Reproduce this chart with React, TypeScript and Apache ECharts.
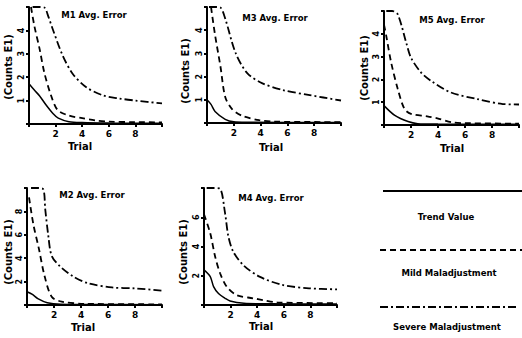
import React, { useEffect, useRef } from "react";
import * as echarts from "echarts";

// ---------- data (trial, avg. error counts; values at the top of a panel are off-scale) ----------
const panelTitles = ["M1 Avg. Error", "M3 Avg. Error", "M5 Avg. Error", "M2 Avg. Error", "M4 Avg. Error"];
const yMaxes = [5, 5, 5, 10, 8];
const yIntervals = [1, 1, 1, 2, 2];
const xTickLabels = ["2", "4", "6", "8"];
const legendNames = ["Trend Value", "Mild Maladjustment", "Severe Maladjustment"];

const m1Trend = [[0, 1.72], [0.4, 1.45], [0.8, 1.2], [1.3, 0.8], [1.8, 0.45], [2.2, 0.25], [3, 0.1], [4, 0.06], [6, 0.04], [10, 0.03]];
const m1Mild = [[0.15, 5], [0.4, 4.2], [0.8, 3.2], [1.15, 2.2], [1.65, 1.23], [2.15, 0.6], [3, 0.36], [4, 0.25], [5, 0.15], [6, 0.1], [8, 0.08], [10, 0.07]];
const m1Severe = [[0.27, 5], [0.7, 5], [1.15, 4.98], [1.45, 4.6], [1.78, 4.06], [2.53, 2.93], [3.28, 2.15], [4.28, 1.58], [5.53, 1.23], [6.78, 1.09], [8.03, 1.0], [10, 0.88]];

const m3Trend = [[0, 1.0], [0.3, 0.8], [0.6, 0.5], [1.36, 0.16], [2, 0.05], [3, 0.03], [10, 0.02]];
const m3Mild = [[0.3, 5], [0.6, 3.8], [1.0, 2.45], [1.36, 1.12], [1.87, 0.6], [2.63, 0.31], [3.9, 0.12], [5, 0.06], [10, 0.04]];
const m3Severe = [[0.15, 5], [0.6, 5], [0.99, 4.98], [1.36, 4.5], [2.12, 3.04], [3.0, 2.15], [4.14, 1.71], [5.65, 1.42], [7.67, 1.2], [10, 0.97]];

const m5Trend = [[0, 0.85], [0.8, 0.42], [1.78, 0.15], [2.5, 0.06], [4, 0.04], [10, 0.03]];
const m5Mild = [[0, 4.4], [0.17, 3.9], [0.53, 2.74], [1.02, 1.58], [1.51, 0.71], [2.0, 0.49], [3.2, 0.38], [3.95, 0.29], [5, 0.12], [6, 0.08], [10, 0.06]];
const m5Severe = [[0.17, 5], [0.6, 5], [1.02, 4.85], [1.65, 3.6], [2.0, 2.95], [2.75, 2.3], [3.48, 1.94], [4.94, 1.43], [6.9, 1.14], [8.8, 0.92], [10, 0.9]];

const m2Trend = [[0, 1.13], [0.4, 0.9], [0.8, 0.55], [1.5, 0.2], [2.5, 0.06], [4, 0.04], [10, 0.03]];
const m2Mild = [[0.15, 9.2], [0.47, 6.9], [0.89, 4.76], [1.28, 2.58], [1.83, 0.7], [2.57, 0.29], [4.3, 0.1], [10, 0.06]];
const m2Severe = [[0.3, 10], [0.75, 10], [1.2, 9.9], [1.35, 8.2], [1.58, 5.9], [1.83, 4.2], [2.45, 3.3], [3.43, 2.43], [4.54, 1.85], [6.3, 1.5], [8, 1.42], [10, 1.22]];

const m4Trend = [[0, 2.4], [0.47, 1.94], [0.72, 1.26], [1.09, 0.78], [1.58, 0.46], [1.96, 0.27], [3, 0.12], [5, 0.08], [10, 0.06]];
const m4Mild = [[0, 6.2], [0.47, 4.9], [0.84, 3.3], [1.21, 2.17], [1.7, 1.26], [2.44, 0.68], [3.68, 0.46], [4.42, 0.34], [5.5, 0.18], [10, 0.12]];
const m4Severe = [[0.2, 8], [0.7, 8], [1.2, 7.95], [1.58, 6.3], [1.83, 4.7], [2.2, 3.65], [2.94, 2.74], [4.17, 1.94], [5.9, 1.37], [7.9, 1.14], [10, 1.07]];

const panelSeries = [
  [m1Trend, m1Mild, m1Severe],
  [m3Trend, m3Mild, m3Severe],
  [m5Trend, m5Mild, m5Severe],
  [m2Trend, m2Mild, m2Severe],
  [m4Trend, m4Mild, m4Severe],
];

// ---------- layout ----------
const grids = [
  { left: 29, top: 7, width: 133, height: 117 },
  { left: 207, top: 7, width: 134, height: 116 },
  { left: 384, top: 11, width: 138, height: 114 },
  { left: 27, top: 188, width: 135, height: 117 },
  { left: 204, top: 188, width: 133, height: 117 },
];
const titlePos = [[94, 15], [275, 18], [452, 20], [92, 195], [271, 198]];
const trialPos = [[80, 146], [271, 147], [452, 148], [83, 327], [261, 326]];
const countsPos = [[8, 67], [185, 71], [364, 68], [8, 252], [183, 252]];

const FONT = "'DejaVu Sans', sans-serif";
const dashStyles: any[] = ["solid", [6, 4], [8, 3, 2, 3]];

export default function App() {
  const ref = useRef<HTMLDivElement>(null);
  useEffect(() => {
    if (!ref.current) return;
    const chart = echarts.init(ref.current, null, { renderer: "svg" });
    const xAxes = grids.map((_, i) => ({
      type: "value",
      gridIndex: i,
      min: 0,
      max: 10,
      interval: 2,
      splitLine: { show: false },
      axisLine: { lineStyle: { color: "#000", width: 2 } },
      axisTick: { show: true, length: 3, lineStyle: { color: "#000", width: 2 } },
      axisLabel: {
        color: "#000",
        fontFamily: FONT,
        fontWeight: "bold",
        fontSize: 9,
        margin: 5,
        formatter: (v: number) => (xTickLabels.includes(String(v)) ? String(v) : ""),
      },
    }));
    const yAxes = grids.map((_, i) => ({
      type: "value",
      gridIndex: i,
      min: 0,
      max: yMaxes[i],
      interval: yIntervals[i],
      splitLine: { show: false },
      axisLine: { lineStyle: { color: "#000", width: 2 } },
      axisTick: { show: true, length: 3, lineStyle: { color: "#000", width: 2 } },
      axisLabel: {
        color: "#000",
        fontFamily: FONT,
        fontWeight: "bold",
        fontSize: 8,
        rotate: 90,
        margin: 4,
        formatter: (v: number) => (v === 0 || v === yMaxes[i] ? "" : String(v)),
      },
    }));
    const series: any[] = [];
    panelSeries.forEach((set, i) => {
      set.forEach((data, k) => {
        series.push({
          type: "line",
          name: legendNames[k],
          xAxisIndex: i,
          yAxisIndex: i,
          data,
          smooth: 0.3,
          clip: true,
          symbol: "none",
          lineStyle: { color: "#000", width: k === 0 ? 1.5 : 1.8, type: dashStyles[k] },
        });
      });
    });
    const texts: any[] = [];
    const txt = (t: string, x: number, y: number, size: number, rot = 0) => ({
      type: "text",
      x,
      y,
      rotation: rot,
      style: {
        text: t,
        fill: "#000",
        font: `bold ${size}px ${FONT}`,
        align: "center",
        verticalAlign: "middle",
      },
    });
    panelTitles.forEach((t, i) => texts.push(txt(t, titlePos[i][0], titlePos[i][1], 8.5)));
    trialPos.forEach((p) => texts.push(txt("Trial", p[0], p[1], 10)));
    countsPos.forEach((p) => texts.push(txt("(Counts E1)", p[0], p[1], 10, Math.PI / 2)));
    const legendY = [191, 250, 307];
    const legendX2 = [522, 522, 517];
    legendY.forEach((y, k) => {
      texts.push({
        type: "line",
        shape: { x1: k === 0 ? 383 : 380, y1: y, x2: legendX2[k], y2: y },
        style: { stroke: "#000", lineWidth: 2, lineDash: k === 0 ? null : dashStyles[k] },
      });
    });
    texts.push(txt(legendNames[0], 446, 217, 8.5));
    texts.push(txt(legendNames[1], 449, 273, 8.5));
    texts.push(txt(legendNames[2], 447, 327, 8.5));

    chart.setOption({
      animation: false,
      backgroundColor: "#fff",
      grid: grids,
      xAxis: xAxes,
      yAxis: yAxes,
      series,
      graphic: texts,
    });
    return () => chart.dispose();
  }, []);
  return (
    <div
      ref={ref}
      style={{ position: "fixed", left: 0, top: 0, width: 522, height: 338, background: "#fff" }}
    />
  );
}
